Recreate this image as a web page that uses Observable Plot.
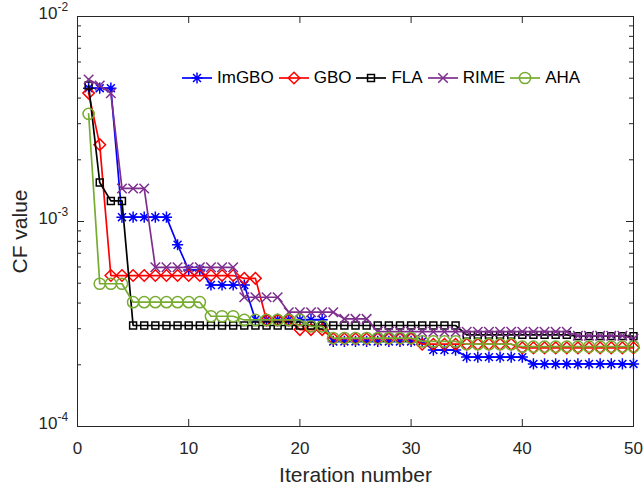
<!DOCTYPE html>
<html>
<head>
<meta charset="utf-8">
<script src="https://cdn.jsdelivr.net/npm/d3@7"></script>
<script src="https://cdn.jsdelivr.net/npm/@observablehq/plot@0.6"></script>
<style>
  html, body { margin: 0; padding: 0; background: #fff; }
  #chart { position: relative; width: 643px; height: 488px; font-family: "Liberation Sans", Arial, sans-serif; }
  #legend { position: absolute; left: 182px; top: 68px; display: flex; align-items: center; font-size: 17px; color: #000; white-space: nowrap; }
  #legend .item { display: flex; align-items: center; margin-right: 5px; }
  #legend svg { margin-right: 5px; overflow: visible; }
</style>
</head>
<body>
<div id="chart"></div>
<script>
// Best cost found so far at each iteration, per algorithm
const iterations = d3.range(1, 51);

const imgbo = [
  4.47e-3, 4.47e-3, 4.47e-3, 1.05e-3, 1.05e-3, 1.05e-3, 1.05e-3, 1.05e-3, 7.7e-4, 5.8e-4,
  5.8e-4, 4.9e-4, 4.9e-4, 4.9e-4, 4.9e-4, 3.32e-4, 3.32e-4, 3.32e-4, 3.32e-4, 3.32e-4,
  3.32e-4, 3.32e-4, 2.6e-4, 2.6e-4, 2.6e-4, 2.6e-4, 2.6e-4, 2.6e-4, 2.6e-4, 2.6e-4,
  2.6e-4, 2.36e-4, 2.36e-4, 2.36e-4, 2.18e-4, 2.18e-4, 2.18e-4, 2.18e-4, 2.18e-4, 2.18e-4,
  2.02e-4, 2.02e-4, 2.02e-4, 2.02e-4, 2.02e-4, 2.02e-4, 2.02e-4, 2.02e-4, 2.02e-4, 2.02e-4
];
const gbo = [
  4.23e-3, 2.37e-3, 5.45e-4, 5.45e-4, 5.45e-4, 5.45e-4, 5.45e-4, 5.45e-4, 5.45e-4, 5.45e-4,
  5.45e-4, 5.45e-4, 5.45e-4, 5.45e-4, 5.28e-4, 5.28e-4, 3.31e-4, 3.31e-4, 3.31e-4, 2.97e-4,
  2.97e-4, 2.97e-4, 2.68e-4, 2.68e-4, 2.68e-4, 2.68e-4, 2.68e-4, 2.68e-4, 2.68e-4, 2.68e-4,
  2.52e-4, 2.52e-4, 2.52e-4, 2.52e-4, 2.52e-4, 2.52e-4, 2.52e-4, 2.52e-4, 2.52e-4, 2.42e-4,
  2.42e-4, 2.42e-4, 2.42e-4, 2.42e-4, 2.42e-4, 2.42e-4, 2.42e-4, 2.42e-4, 2.42e-4, 2.42e-4
];
const fla = [
  4.61e-3, 1.55e-3, 1.26e-3, 1.26e-3, 3.11e-4, 3.11e-4, 3.11e-4, 3.11e-4, 3.11e-4, 3.11e-4,
  3.11e-4, 3.11e-4, 3.11e-4, 3.11e-4, 3.11e-4, 3.11e-4, 3.11e-4, 3.11e-4, 3.11e-4, 3.11e-4,
  3.11e-4, 3.11e-4, 3.11e-4, 3.11e-4, 3.11e-4, 3.11e-4, 3.11e-4, 3.11e-4, 3.11e-4, 3.11e-4,
  3.11e-4, 3.11e-4, 3.11e-4, 3.11e-4, 2.8e-4, 2.8e-4, 2.8e-4, 2.8e-4, 2.8e-4, 2.8e-4,
  2.8e-4, 2.8e-4, 2.8e-4, 2.8e-4, 2.76e-4, 2.76e-4, 2.76e-4, 2.76e-4, 2.76e-4, 2.76e-4
];
const rime = [
  4.93e-3, 4.61e-3, 4.22e-3, 1.45e-3, 1.45e-3, 1.45e-3, 5.98e-4, 5.98e-4, 5.98e-4, 5.98e-4,
  5.98e-4, 5.98e-4, 5.98e-4, 5.98e-4, 4.27e-4, 4.27e-4, 4.27e-4, 4.27e-4, 3.61e-4, 3.61e-4,
  3.61e-4, 3.61e-4, 3.61e-4, 3.35e-4, 3.35e-4, 3.35e-4, 2.9e-4, 2.9e-4, 2.9e-4, 2.9e-4,
  2.9e-4, 2.9e-4, 2.9e-4, 2.9e-4, 2.9e-4, 2.9e-4, 2.9e-4, 2.9e-4, 2.9e-4, 2.9e-4,
  2.9e-4, 2.9e-4, 2.9e-4, 2.9e-4, 2.77e-4, 2.77e-4, 2.77e-4, 2.77e-4, 2.77e-4, 2.68e-4
];
const aha = [
  3.35e-3, 4.97e-4, 4.97e-4, 4.97e-4, 4.04e-4, 4.04e-4, 4.04e-4, 4.04e-4, 4.04e-4, 4.04e-4,
  4.04e-4, 3.45e-4, 3.45e-4, 3.45e-4, 3.31e-4, 3.31e-4, 3.31e-4, 3.31e-4, 3.31e-4, 3.31e-4,
  3.08e-4, 3.08e-4, 2.7e-4, 2.7e-4, 2.7e-4, 2.7e-4, 2.7e-4, 2.7e-4, 2.7e-4, 2.7e-4,
  2.6e-4, 2.6e-4, 2.6e-4, 2.6e-4, 2.52e-4, 2.52e-4, 2.52e-4, 2.52e-4, 2.52e-4, 2.45e-4,
  2.45e-4, 2.45e-4, 2.45e-4, 2.45e-4, 2.45e-4, 2.45e-4, 2.45e-4, 2.45e-4, 2.45e-4, 2.45e-4
];

const seriesNames = ["ImGBO", "GBO", "FLA", "RIME", "AHA"];
const seriesValues = [imgbo, gbo, fla, rime, aha];

const xTickValues = [0, 10, 20, 30, 40, 50];
const yMajorTicks = [1e-4, 1e-3, 1e-2];
const yMinorTicks = [2e-4, 3e-4, 4e-4, 5e-4, 6e-4, 7e-4, 8e-4, 9e-4,
                     2e-3, 3e-3, 4e-3, 5e-3, 6e-3, 7e-3, 8e-3, 9e-3];

// Eight-armed asterisk marker (a plus overlaid with a cross)
const star8 = {
  draw(context, size) {
    const r = Math.sqrt(size / Math.PI);
    const q = r * Math.SQRT1_2;
    context.moveTo(-r, 0); context.lineTo(r, 0);
    context.moveTo(0, -r); context.lineTo(0, r);
    context.moveTo(-q, -q); context.lineTo(q, q);
    context.moveTo(-q, q); context.lineTo(q, -q);
  }
};

// Line and marker appearance for each algorithm
const look = {
  ImGBO: {color: "#0000ff", symbol: star8, r: 5.6},
  GBO:   {color: "#ff0000", symbol: d3.symbolDiamond2, r: 5.2},
  FLA:   {color: "#000000", symbol: d3.symbolSquare2, r: 4.4},
  RIME:  {color: "#7e2f8e", symbol: d3.symbolTimes, r: 4.4},
  AHA:   {color: "#77ac30", symbol: d3.symbolCircle, r: 5.6}
};

const rows = seriesNames.flatMap((name, k) =>
  iterations.map((it, i) => ({series: name, iteration: it, value: seriesValues[k][i]}))
);

const W = 643, H = 488;
const mL = 77, mR = 10, mT = 16, mB = 62;
const frameW = W - mL - mR, frameH = H - mT - mB;
const axisColor = "#262626";
const majorLen = 7, minorLen = 4;

const seriesMarks = seriesNames.flatMap(name => {
  const d = rows.filter(r => r.series === name);
  const s = look[name];
  return [
    Plot.line(d, {x: "iteration", y: "value", stroke: s.color, strokeWidth: 1.7}),
    Plot.dot(d, {x: "iteration", y: "value", stroke: s.color, fill: "none",
                 symbol: s.symbol, r: s.r, strokeWidth: 1.5})
  ];
});

const chart = Plot.plot({
  width: W, height: H,
  marginLeft: mL, marginRight: mR, marginTop: mT, marginBottom: mB,
  style: {fontFamily: "'Liberation Sans', Arial, sans-serif", background: "#fff", color: axisColor},
  x: {domain: [0, 50]},
  y: {type: "log", domain: [1e-4, 1e-2]},
  marks: [
    ...seriesMarks,
    Plot.frame({stroke: axisColor, strokeWidth: 1}),
    // inward ticks on all four sides
    Plot.tickX(xTickValues, {x: d => d, insetTop: frameH - majorLen, stroke: axisColor}),
    Plot.tickX(xTickValues, {x: d => d, insetBottom: frameH - majorLen, stroke: axisColor}),
    Plot.tickY(yMajorTicks, {y: d => d, insetRight: frameW - majorLen, stroke: axisColor}),
    Plot.tickY(yMajorTicks, {y: d => d, insetLeft: frameW - majorLen, stroke: axisColor}),
    Plot.tickY(yMinorTicks, {y: d => d, insetRight: frameW - minorLen, stroke: axisColor}),
    Plot.tickY(yMinorTicks, {y: d => d, insetLeft: frameW - minorLen, stroke: axisColor}),
    Plot.axisX({ticks: xTickValues, tickSize: 0, tickPadding: 15, label: null,
                fontSize: 17, fill: axisColor}),
    Plot.axisY({ticks: yMajorTicks, tickSize: 0, tickPadding: 20, label: null,
                tickFormat: () => "10", fontSize: 17, dy: -3, fill: axisColor}),
    Plot.text(yMajorTicks, {y: d => d, text: d => String(Math.round(Math.log10(d))),
                frameAnchor: "left", textAnchor: "start", dx: -20, dy: -9,
                fontSize: 12, fill: axisColor}),
    Plot.text(["Iteration number"], {frameAnchor: "bottom", lineAnchor: "middle", dy: 49,
                fontSize: 21, fill: axisColor}),
    Plot.text(["CF value"], {frameAnchor: "left", textAnchor: "middle", lineAnchor: "middle",
                dx: -57, dy: 10, rotate: -90, fontSize: 21, fill: axisColor})
  ]
});

const container = document.getElementById("chart");
container.appendChild(chart);

// Legend drawn inside the plot area, one row
const legend = d3.select(container).append("div").attr("id", "legend");
for (const name of seriesNames) {
  const s = look[name];
  const item = legend.append("div").attr("class", "item");
  const svg = item.append("svg").attr("width", 30).attr("height", 20);
  svg.append("line").attr("x1", 0).attr("x2", 30).attr("y1", 10).attr("y2", 10)
    .attr("stroke", s.color).attr("stroke-width", 1.7);
  svg.append("path").attr("transform", "translate(15,10)")
    .attr("d", d3.symbol(s.symbol, Math.PI * s.r * s.r)())
    .attr("fill", "none").attr("stroke", s.color).attr("stroke-width", 1.5);
  item.append("span").text(name);
}
</script>
</body>
</html>
